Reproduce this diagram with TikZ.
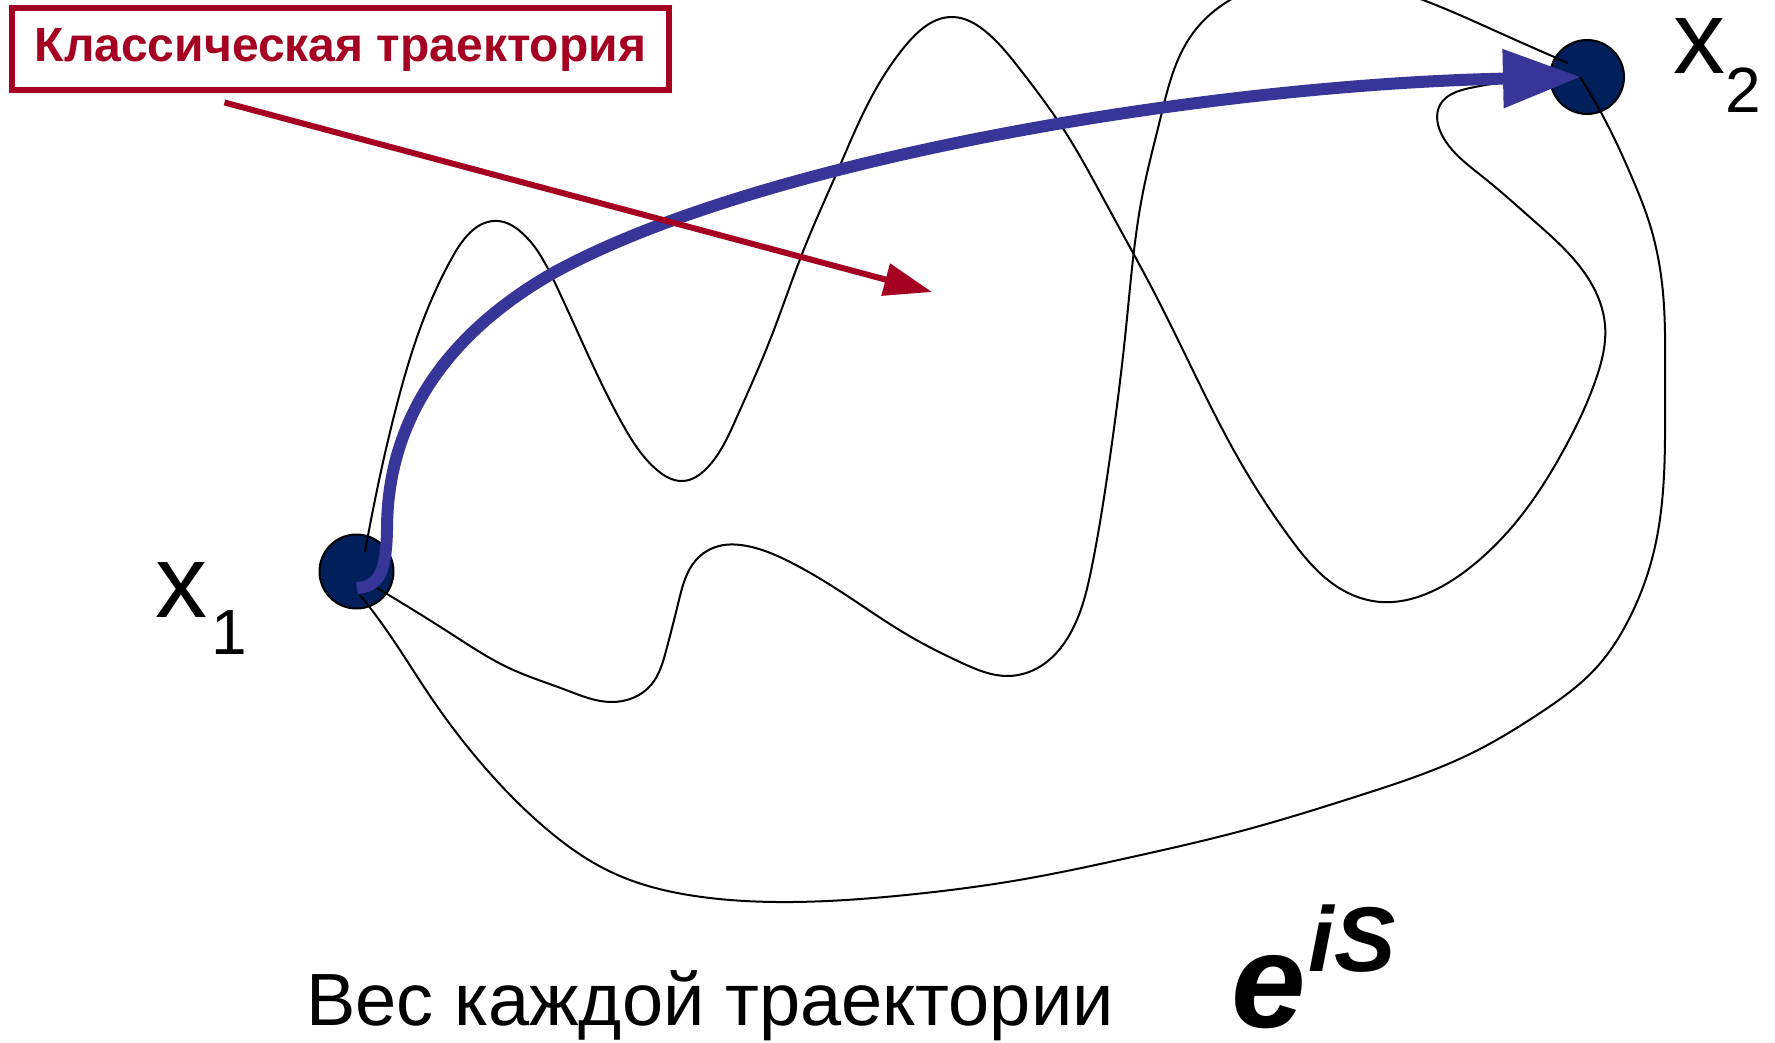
\documentclass[tikz,border=0pt]{standalone}
\usepackage{fontspec}
\setmainfont{Liberation Sans}
\usetikzlibrary{arrows.meta,hobby}
\definecolor{redc}{HTML}{A50021}
\definecolor{bluec}{HTML}{373598}
\definecolor{navyc}{HTML}{001F5B}
\tikzset{
  pathline/.style={black, line width=2pt},
  endpoint/.style={circle, minimum size=74pt, inner sep=0pt, fill=navyc, draw=black, line width=2pt},
  classic/.style={bluec, line width=12pt, -{Triangle[length=78pt,width=56pt]}},
  redbox/.style={draw=redc, line width=6pt, minimum width=657pt, minimum height=82pt, inner sep=0pt, text=redc, font=\fontsize{48}{48}\selectfont\bfseries},
  redarrow/.style={redc, line width=6pt, -{Triangle[length=48pt,width=32pt]}},
}
\begin{document}
\begin{tikzpicture}[x=1pt,y=-1pt]
\useasboundingbox (0,0) rectangle (1775,1043);
\fill[white] (0,0) rectangle (1775,1043);

% end points
\node[endpoint] (x1) at (356.5,571.5) {};
\node[endpoint] (x2) at (1587,77) {};

% trajectories
\draw[pathline] (365,552) to[curve through={(377,490) (396,408) (424,318) (453,256) (498,221) (521,232) (555,283) (589,357) (623,425) (657,470) (683,481) (707,468) (736,419) (770,340) (804,249) (838,170) (872,96) (906,45) (953,17) (985,31) (1019,68) (1064,130) (1109,209) (1155,294) (1200,385) (1245,470) (1290,538) (1336,586) (1381,602) (1426,594) (1472,566) (1517,521) (1562,453) (1596,379) (1605,325) (1577,263) (1533,220) (1483,177) (1443,137) (1440,105) (1470,88)}] (1560,80);
\draw[pathline] (377,588) to[curve through={(453,635) (509,668) (566,690) (611,702) (651,685) (666,651) (679,600) (696,560) (719,546) (747,546) (792,563) (849,597) (906,634) (962,663) (1007,676) (1041,666) (1070,634) (1092,566) (1109,464) (1126,328) (1143,192) (1160,120) (1193,33) (1230,0) (1300,-22) (1423,0) (1500,33)}] (1568,63);
\draw[pathline] (360,595) to[curve through={(385,628) (430,696) (487,770) (543,826) (611,872) (702,897) (792,902) (906,895) (1019,880) (1132,857) (1245,830) (1358,796) (1472,753) (1540,713) (1596,668) (1630,617) (1653,555) (1664,475) (1665,385) (1663,293) (1650,225) (1633,180) (1605,120)}] (1580,77);

% classical trajectory
\draw[classic] (357,588) .. controls (378,586) and (386,575) .. (387,530)
  .. controls (387,400) and (470,320) .. (555,272)
  .. controls (760,160) and (1200,85) .. ([xshift=-6pt]x2.center);

% label
\node[redbox] (lbl) at (340.5,49.5) {Классическая траектория};
\coordinate (redtip) at (932,292);
\draw[redarrow] ([shift={(-116,9)}]lbl.south) -- (redtip);

% point labels
\node[anchor=base west, inner sep=0pt, text height=60pt] (x1lbl) at (155,617) {\fontsize{104}{110}\selectfont x\hspace{4pt}\raisebox{-37pt}{\fontsize{64}{70}\selectfont 1}};
\node[anchor=base west, inner sep=0pt, text height=60pt] (x2lbl) at (1673,74) {\fontsize{104}{110}\selectfont x\hspace{0pt}\raisebox{-39pt}{\fontsize{64}{70}\selectfont 2}};

% weight text
\node[anchor=base west, inner sep=0pt] (weight) at (306,1025) {\fontsize{74}{74}\selectfont Вес каждой траектории};
\node[anchor=base west, inner sep=0pt, text depth=0pt] (eis) at (1231,1027) {\fontsize{134}{134}\selectfont\bfseries\itshape e\hspace{3pt}\raisebox{56pt}{\fontsize{92}{92}\selectfont iS}};
\end{tikzpicture}
\end{document}
